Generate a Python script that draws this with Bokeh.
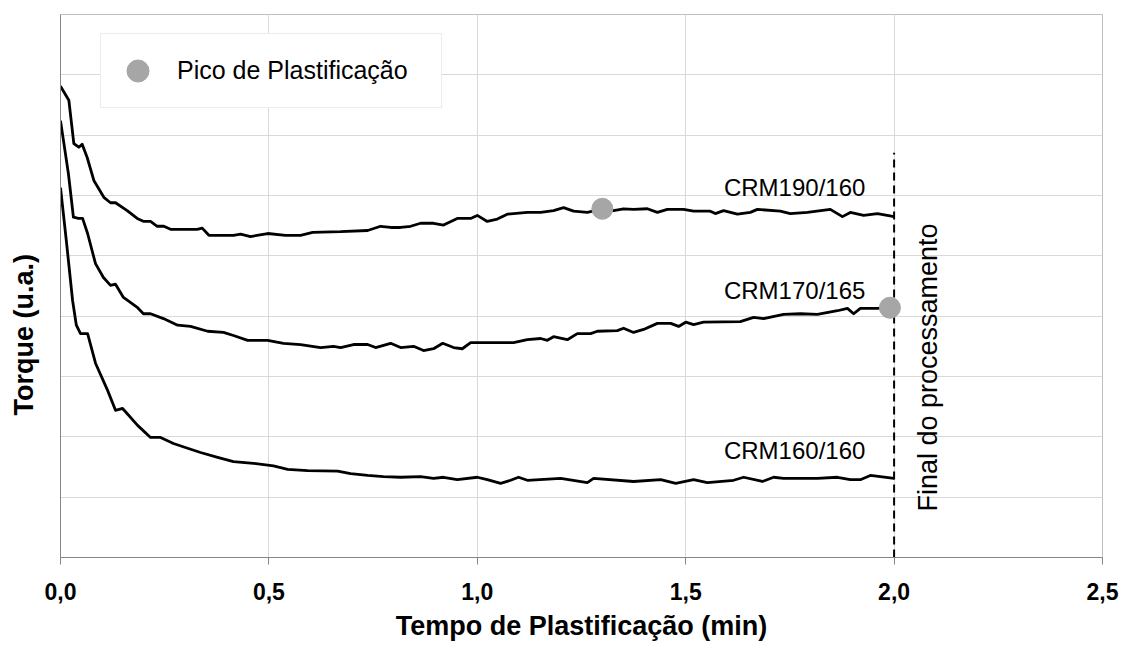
from math import pi
from bokeh.plotting import figure
from bokeh.models import Range1d, FixedTicker, Legend, LegendItem
from bokeh.core.properties import value
from bokeh.embed import file_html
from bokeh.resources import INLINE

FONT = "Liberation Sans"
GRAY = "#a6a6a6"

# ---- data (time in min, torque in arbitrary units) ----
t190 = [0.000, 0.020, 0.032, 0.044, 0.052, 0.064, 0.080, 0.104, 0.120, 0.132, 0.160, 0.184,
        0.200, 0.216, 0.232, 0.248, 0.264, 0.328, 0.340, 0.356, 0.415, 0.432, 0.456, 0.497,
        0.540, 0.576, 0.605, 0.672, 0.737, 0.768, 0.792, 0.816, 0.840, 0.864, 0.895, 0.919,
        0.952, 0.984, 1.000, 1.024, 1.048, 1.072, 1.120, 1.152, 1.183, 1.207, 1.231, 1.264,
        1.300, 1.327, 1.351, 1.375, 1.408, 1.432, 1.456, 1.495, 1.519, 1.559, 1.571, 1.591,
        1.624, 1.655, 1.672, 1.727, 1.751, 1.792, 1.847, 1.876, 1.895, 1.927, 1.960, 2.000]
v190 = [7.81, 7.58, 6.86, 6.80, 6.85, 6.63, 6.25, 5.97, 5.88, 5.88, 5.75, 5.62,
        5.57, 5.57, 5.49, 5.49, 5.44, 5.44, 5.46, 5.34, 5.34, 5.36, 5.32, 5.37,
        5.34, 5.34, 5.39, 5.40, 5.42, 5.49, 5.47, 5.47, 5.49, 5.54, 5.54, 5.51,
        5.62, 5.62, 5.67, 5.57, 5.61, 5.69, 5.72, 5.72, 5.75, 5.80, 5.74, 5.72,
        5.78, 5.75, 5.78, 5.77, 5.78, 5.72, 5.77, 5.77, 5.74, 5.74, 5.70, 5.75,
        5.69, 5.72, 5.77, 5.74, 5.70, 5.72, 5.77, 5.65, 5.72, 5.67, 5.70, 5.65]

t170 = [0.000, 0.019, 0.031, 0.043, 0.053, 0.065, 0.084, 0.103, 0.120, 0.132, 0.151, 0.161,
        0.185, 0.199, 0.216, 0.247, 0.281, 0.312, 0.353, 0.391, 0.415, 0.449, 0.497, 0.535,
        0.576, 0.624, 0.655, 0.672, 0.703, 0.737, 0.756, 0.792, 0.816, 0.847, 0.871, 0.895,
        0.917, 0.943, 0.964, 0.984, 1.087, 1.120, 1.152, 1.168, 1.183, 1.216, 1.240, 1.272,
        1.288, 1.336, 1.351, 1.375, 1.399, 1.432, 1.464, 1.483, 1.500, 1.519, 1.543, 1.631,
        1.663, 1.687, 1.735, 1.775, 1.816, 1.864, 1.888, 1.903, 1.919, 1.960, 1.990]
v170 = [7.24, 6.36, 5.64, 5.62, 5.62, 5.37, 4.87, 4.64, 4.51, 4.53, 4.31, 4.26,
        4.14, 4.04, 4.04, 3.96, 3.85, 3.83, 3.75, 3.73, 3.68, 3.60, 3.60, 3.55,
        3.53, 3.48, 3.50, 3.48, 3.53, 3.53, 3.48, 3.55, 3.48, 3.50, 3.43, 3.46,
        3.55, 3.48, 3.46, 3.56, 3.56, 3.61, 3.63, 3.60, 3.66, 3.61, 3.71, 3.71,
        3.75, 3.76, 3.80, 3.73, 3.78, 3.88, 3.88, 3.83, 3.90, 3.86, 3.90, 3.91,
        3.98, 3.96, 4.03, 4.04, 4.03, 4.09, 4.13, 4.04, 4.13, 4.13, 4.14]

t160 = [0.000, 0.014, 0.029, 0.038, 0.048, 0.065, 0.084, 0.113, 0.132, 0.149, 0.185, 0.216,
        0.240, 0.271, 0.305, 0.336, 0.377, 0.415, 0.463, 0.511, 0.545, 0.593, 0.665, 0.696,
        0.737, 0.775, 0.816, 0.864, 0.895, 0.919, 0.952, 1.000, 1.024, 1.056, 1.080, 1.099,
        1.120, 1.200, 1.264, 1.279, 1.375, 1.440, 1.476, 1.519, 1.552, 1.615, 1.639, 1.684,
        1.711, 1.735, 1.816, 1.864, 1.895, 1.919, 1.943, 2.000]
v160 = [6.13, 5.25, 4.26, 3.85, 3.71, 3.71, 3.22, 2.77, 2.44, 2.47, 2.19, 1.99,
        1.99, 1.89, 1.81, 1.74, 1.66, 1.59, 1.56, 1.52, 1.46, 1.44, 1.43, 1.39,
        1.36, 1.34, 1.33, 1.34, 1.31, 1.33, 1.29, 1.33, 1.29, 1.23, 1.28, 1.33,
        1.28, 1.31, 1.24, 1.31, 1.26, 1.29, 1.23, 1.29, 1.24, 1.28, 1.33, 1.26,
        1.33, 1.31, 1.31, 1.33, 1.29, 1.29, 1.36, 1.31]

peak_t = [1.30, 1.99]
peak_v = [5.78, 4.14]

series_names = ["CRM190/160", "CRM170/165", "CRM160/160"]
label_t = [1.931, 1.931, 1.931]
label_v = [6.13, 4.43, 1.77]

end_t = 2.0
end_top = 6.71

x_ticks = [0.0, 0.5, 1.0, 1.5, 2.0, 2.5]
x_tick_labels = ["0,0", "0,5", "1,0", "1,5", "2,0", "2,5"]
y_grid = [0, 1, 2, 3, 4, 5, 6, 7, 8, 9]

# ---- figure ----
p = figure(frame_width=1042, frame_height=543,
           min_border_left=60, min_border_right=18, min_border_top=14, min_border_bottom=91,
           x_range=Range1d(0, 2.5), y_range=Range1d(0, 9),
           output_backend="svg", toolbar_location=None)
p.background_fill_color = "white"
p.border_fill_color = "white"
p.outline_line_color = "#bfbfbf"

p.xaxis.ticker = FixedTicker(ticks=x_ticks)
p.xaxis.major_label_overrides = {t: s for t, s in zip(x_ticks, x_tick_labels)}
p.xaxis.major_label_text_font = FONT
p.xaxis.major_label_text_font_style = "bold"
p.xaxis.major_label_text_font_size = "23px"
p.xaxis.major_label_text_color = "black"
p.xaxis.major_label_standoff = 18
p.xaxis.major_tick_out = 7
p.xaxis.major_tick_in = 0
p.xaxis.minor_tick_out = 0
p.xaxis.minor_tick_in = 0
p.xaxis.axis_line_color = "#868686"
p.xaxis.major_tick_line_color = "#868686"
p.xaxis.axis_label = "Tempo de Plastificação (min)"
p.xaxis.axis_label_text_font = FONT
p.xaxis.axis_label_text_font_style = "bold"
p.xaxis.axis_label_text_font_size = "27px"
p.xaxis.axis_label_text_color = "black"
p.xaxis.axis_label_standoff = 8

# y axis: no tick labels (arbitrary units); label shifted toward the bottom
p.yaxis.ticker = FixedTicker(ticks=[])
p.yaxis.major_label_standoff = 0
p.yaxis.major_tick_out = 0
p.yaxis.major_tick_in = 0
p.yaxis.minor_tick_out = 0
p.yaxis.minor_tick_in = 0
p.yaxis.axis_line_color = "#868686"
p.yaxis.axis_label = "Torque (u.a.)" + "\u00a0" * 13
p.yaxis.axis_label_text_font = FONT
p.yaxis.axis_label_text_font_style = "bold"
p.yaxis.axis_label_text_font_size = "27px"
p.yaxis.axis_label_text_color = "black"
p.yaxis.axis_label_standoff = 22

p.xgrid.ticker = FixedTicker(ticks=x_ticks)
p.ygrid.ticker = FixedTicker(ticks=y_grid)
p.xgrid.grid_line_color = "#d9d9d9"
p.ygrid.grid_line_color = "#d9d9d9"

# end of processing marker line
p.line([end_t, end_t], [0, end_top], line_color="black", line_width=2, line_dash="8 5")

for tt, vv in [(t190, v190), (t170, v170), (t160, v160)]:
    p.line(tt, vv, line_color="black", line_width=2.8, line_join="round")

peaks = p.scatter(peak_t, peak_v, size=21, fill_color=GRAY, line_color=GRAY)

p.text(x=label_t, y=label_v, text=series_names, text_font=value(FONT),
       text_font_size="24px", text_align="right", text_baseline="middle", text_color="black")

p.text(x=[2.081], y=[3.15], text=["Final do processamento"], angle=pi / 2,
       text_font=value(FONT), text_font_size="27px", text_align="center",
       text_baseline="middle", text_color="black")

legend = Legend(items=[LegendItem(label="Pico de Plastificação", renderers=[peaks])],
                location=(40, 449), orientation="vertical",
                label_text_font=FONT, label_text_font_size="25px", label_text_color="black",
                glyph_width=55, glyph_height=55, padding=9, spacing=0, margin=0,
                label_standoff=12, label_width=255,
                border_line_color="#d9d9d9", border_line_width=1,
                background_fill_color="white", background_fill_alpha=1.0)
p.add_layout(legend)

open("out.html", "w").write(file_html(p, INLINE))
